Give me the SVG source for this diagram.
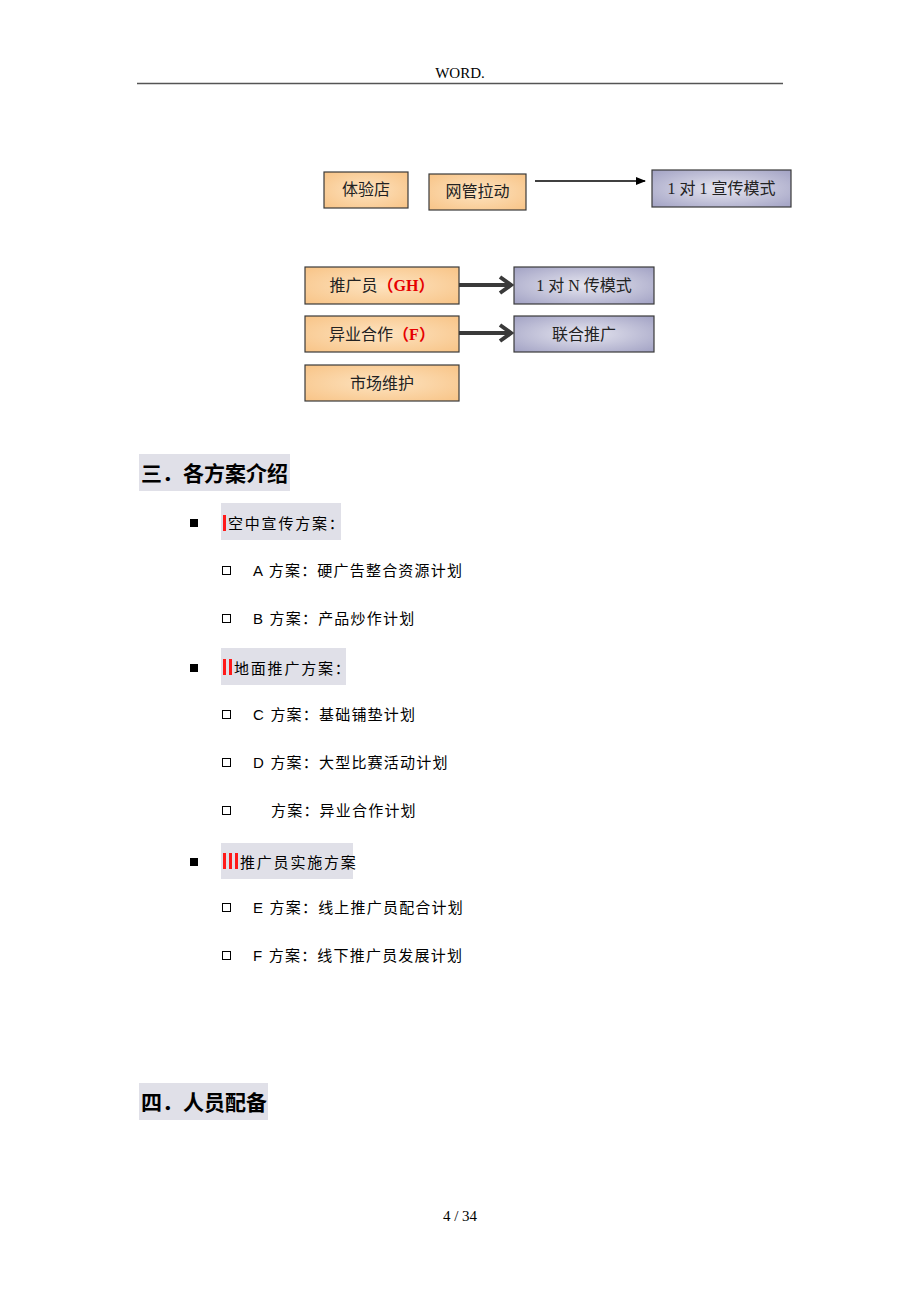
<svg xmlns="http://www.w3.org/2000/svg" width="920" height="1302" viewBox="0 0 920 1302">
<defs>
<radialGradient id="og" cx="50%" cy="50%" r="70%">
<stop offset="0" stop-color="#fde3c0"/>
<stop offset="1" stop-color="#f8c487"/>
</radialGradient>
<radialGradient id="gg" cx="50%" cy="50%" r="70%">
<stop offset="0" stop-color="#e6e6f0"/>
<stop offset="1" stop-color="#a2a2c4"/>
</radialGradient>
<marker id="thin" markerWidth="10" markerHeight="8" refX="9" refY="4" orient="auto" markerUnits="userSpaceOnUse">
<path d="M0,0 L10,4 L0,8 Z" fill="#000"/>
</marker>
<marker id="chev" markerWidth="16" markerHeight="20" refX="13" refY="10" orient="auto" markerUnits="userSpaceOnUse">
<path d="M2,2 L13,10 L2,18" fill="none" stroke="#3a3a3a" stroke-width="4"/>
</marker>
</defs>
<style>
.ob{fill:url(#og);stroke:#3a3a3a;stroke-width:1.2}
.gb{fill:url(#gg);stroke:#3a3a3a;stroke-width:1.2}
.bt{font-family:"Liberation Serif","Noto Sans CJK SC",serif;font-size:16px;fill:#222;text-anchor:middle}
.red{fill:#e60000;font-weight:bold}
.hl{fill:#e0e0e8}
.h1{font-family:"Noto Sans CJK SC",sans-serif;font-size:21px;font-weight:bold;fill:#000}
.h2{font-family:"Noto Sans CJK SC",sans-serif;font-size:15px;fill:#000;letter-spacing:1.8px}
.it{font-family:"Liberation Sans","Noto Sans CJK SC",sans-serif;font-size:15px;fill:#000;letter-spacing:1.2px}
.sq{fill:none;stroke:#000;stroke-width:1}
.ft{font-family:"Liberation Serif",serif;font-size:15px;fill:#000;text-anchor:middle}
</style>
<rect width="920" height="1302" fill="#fff"/>
<g id="header">
<text class="ft" x="460" y="78" font-size="13">WORD.</text>
<line x1="137" y1="83.5" x2="783" y2="83.5" stroke="#555" stroke-width="1.5"/>
</g>
<g id="n-tiyan"><rect class="ob" x="324" y="172" width="84" height="36"/><text class="bt" x="366" y="195">体验店</text></g>
<g id="n-wangguan"><rect class="ob" x="429" y="174" width="97" height="36"/><text class="bt" x="477.5" y="197">网管拉动</text></g>
<g id="n-1to1"><rect class="gb" x="652" y="170" width="139" height="37"/><text class="bt" x="721.5" y="194">1 对 1 宣传模式</text></g>
<g id="n-tuiguang"><rect class="ob" x="305" y="267" width="154" height="37"/><text class="bt" x="382" y="291">推广员<tspan class="red">（GH）</tspan></text></g>
<g id="n-1toN"><rect class="gb" x="514" y="267" width="140" height="37"/><text class="bt" x="584" y="291">1 对 N 传模式</text></g>
<g id="n-yiye"><rect class="ob" x="305" y="316" width="154" height="36"/><text class="bt" x="382" y="340">异业合作<tspan class="red">（F）</tspan></text></g>
<g id="n-lianhe"><rect class="gb" x="514" y="316" width="140" height="36"/><text class="bt" x="584" y="340">联合推广</text></g>
<g id="n-shichang"><rect class="ob" x="305" y="365" width="154" height="36"/><text class="bt" x="382" y="389">市场维护</text></g>
<g id="connectors">
<line x1="535" y1="181" x2="645" y2="181" stroke="#000" stroke-width="1.3" marker-end="url(#thin)"/>
<line x1="459" y1="285" x2="511" y2="285" stroke="#3a3a3a" stroke-width="4" marker-end="url(#chev)"/>
<line x1="459" y1="333" x2="511" y2="333" stroke="#3a3a3a" stroke-width="4" marker-end="url(#chev)"/>
</g>
<g id="sec3">
<rect class="hl" x="139" y="454" width="151" height="37"/>
<text class="h1" x="141" y="481">三．各方案介绍</text>
</g>
<g id="head1">
<rect x="190" y="519" width="8" height="8" fill="#000"/>
<rect class="hl" x="221" y="503" width="120" height="37"/>
<rect x="223" y="515" width="3" height="16" fill="#ff1a1a"/>
<text class="h2" x="228" y="529">空中宣传方案：</text>
</g>
<g id="itemA"><rect class="sq" x="222.5" y="566.5" width="8" height="8"/><text class="it" x="253" y="576">A 方案：硬广告整合资源计划</text></g>
<g id="itemB"><rect class="sq" x="222.5" y="614.5" width="8" height="8"/><text class="it" x="253" y="624">B 方案：产品炒作计划</text></g>
<g id="head2">
<rect x="190" y="664" width="8" height="8" fill="#000"/>
<rect class="hl" x="221" y="648" width="125" height="37"/>
<rect x="223" y="659" width="3" height="16" fill="#ff1a1a"/>
<rect x="229" y="659" width="3" height="16" fill="#ff1a1a"/>
<text class="h2" x="234" y="674">地面推广方案：</text>
</g>
<g id="itemC"><rect class="sq" x="222.5" y="710.5" width="8" height="8"/><text class="it" x="253" y="720">C 方案：基础铺垫计划</text></g>
<g id="itemD"><rect class="sq" x="222.5" y="758.5" width="8" height="8"/><text class="it" x="253" y="768">D 方案：大型比赛活动计划</text></g>
<g id="itemX"><rect class="sq" x="222.5" y="806.5" width="8" height="8"/><text class="it" x="271" y="816">方案：异业合作计划</text></g>
<g id="head3">
<rect x="190" y="858" width="8" height="8" fill="#000"/>
<rect class="hl" x="221" y="843" width="132" height="36"/>
<rect x="223" y="853" width="3" height="16" fill="#ff1a1a"/>
<rect x="229" y="853" width="3" height="16" fill="#ff1a1a"/>
<rect x="235" y="853" width="3" height="16" fill="#ff1a1a"/>
<text class="h2" x="240" y="868">推广员实施方案</text>
</g>
<g id="itemE"><rect class="sq" x="222.5" y="903.5" width="8" height="8"/><text class="it" x="253" y="913">E 方案：线上推广员配合计划</text></g>
<g id="itemF"><rect class="sq" x="222.5" y="951.5" width="8" height="8"/><text class="it" x="253" y="961">F 方案：线下推广员发展计划</text></g>
<g id="sec4">
<rect class="hl" x="139" y="1083" width="129" height="37"/>
<text class="h1" x="141" y="1110">四．人员配备</text>
</g>
<g id="footer"><text class="ft" x="460" y="1221">4 / 34</text></g>
</svg>
